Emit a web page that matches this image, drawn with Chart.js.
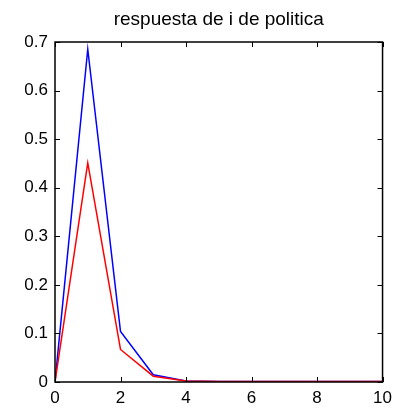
<!DOCTYPE html>
<html>
<head>
<meta charset="utf-8">
<script src="https://cdn.jsdelivr.net/npm/chart.js@4"></script>
<style>
  html, body { margin: 0; padding: 0; background: #fff; }
  canvas { display: block; }
</style>
</head>
<body>
<canvas id="grafico" width="398" height="412"></canvas>
<script>
// Datos
const periodos = [0, 1, 2, 3, 4, 5, 6, 7, 8, 9, 10];
const serieAzul = [0, 0.685, 0.104, 0.015, 0.002, 0.001, 0.001, 0.001, 0.001, 0.001, 0.001];
const serieRoja = [0, 0.451, 0.067, 0.012, 0.002, 0.001, 0.001, 0.001, 0.001, 0.001, 0.001];
const ticksX = [0, 2, 4, 6, 8, 10];
const ticksY = [0, 0.1, 0.2, 0.3, 0.4, 0.5, 0.6, 0.7];
const titulo = 'respuesta de i de politica';

const fuente = 'Liberation Sans, Arial, Helvetica, sans-serif';

// Marcas de eje hacia dentro en los cuatro lados (estilo MATLAB) + titulo centrado sobre el area
const marcasInternas = {
  id: 'marcasInternas',
  afterDraw(chart) {
    const { ctx, chartArea: a, scales } = chart;
    const len = 5;
    ctx.save();
    ctx.strokeStyle = '#000';
    ctx.lineWidth = 1;
    ctx.beginPath();
    ticksX.forEach(v => {
      const px = Math.round(scales.x.getPixelForValue(v)) + 0.5;
      ctx.moveTo(px, a.bottom); ctx.lineTo(px, a.bottom - len);
      ctx.moveTo(px, a.top); ctx.lineTo(px, a.top + len);
    });
    ticksY.forEach(v => {
      const py = Math.round(scales.y.getPixelForValue(v)) + 0.5;
      ctx.moveTo(a.left, py); ctx.lineTo(a.left + len, py);
      ctx.moveTo(a.right, py); ctx.lineTo(a.right - len, py);
    });
    ctx.stroke();
    // caja
    ctx.lineWidth = 1.5;
    ctx.strokeRect(a.left, a.top, a.right - a.left, a.bottom - a.top);
    // titulo
    ctx.fillStyle = '#000';
    ctx.font = '19px ' + fuente;
    ctx.textAlign = 'center';
    ctx.textBaseline = 'alphabetic';
    ctx.fillText(titulo, (a.left + a.right) / 2, 25);
    ctx.restore();
  }
};

const ctx = document.getElementById('grafico').getContext('2d');

new Chart(ctx, {
  type: 'line',
  data: {
    datasets: [
      {
        label: 'roja',
        data: periodos.map((p, i) => ({ x: p, y: serieRoja[i] })),
        borderColor: '#ff0000',
        borderWidth: 1.5,
        pointRadius: 0,
        tension: 0,
        fill: false
      },
      {
        label: 'azul',
        data: periodos.map((p, i) => ({ x: p, y: serieAzul[i] })),
        borderColor: '#0000ff',
        borderWidth: 1.5,
        pointRadius: 0,
        tension: 0,
        fill: false
      }
    ]
  },
  options: {
    responsive: false,
    animation: false,
    layout: { padding: { left: 0, right: 15, top: 42, bottom: 0 } },
    plugins: {
      legend: { display: false },
      tooltip: { enabled: false },
      title: { display: false }
    },
    scales: {
      x: {
        type: 'linear',
        min: 0,
        max: 10,
        afterBuildTicks: s => { s.ticks = ticksX.map(v => ({ value: v })); },
        afterFit: s => { s.height = 30; },
        grid: { display: false, drawTicks: false },
        border: { display: false },
        ticks: {
          color: '#000',
          padding: 6,
          maxRotation: 0,
          font: { family: fuente, size: 17 }
        }
      },
      y: {
        type: 'linear',
        min: 0,
        max: 0.7,
        afterBuildTicks: s => { s.ticks = ticksY.map(v => ({ value: v })); },
        afterFit: s => { s.width = 55; },
        grid: { display: false, drawTicks: false },
        border: { display: false },
        ticks: {
          color: '#000',
          padding: 7,
          font: { family: fuente, size: 17 },
          callback: v => (v === 0 ? '0' : v.toFixed(1))
        }
      }
    }
  },
  plugins: [marcasInternas]
});
</script>
</body>
</html>
